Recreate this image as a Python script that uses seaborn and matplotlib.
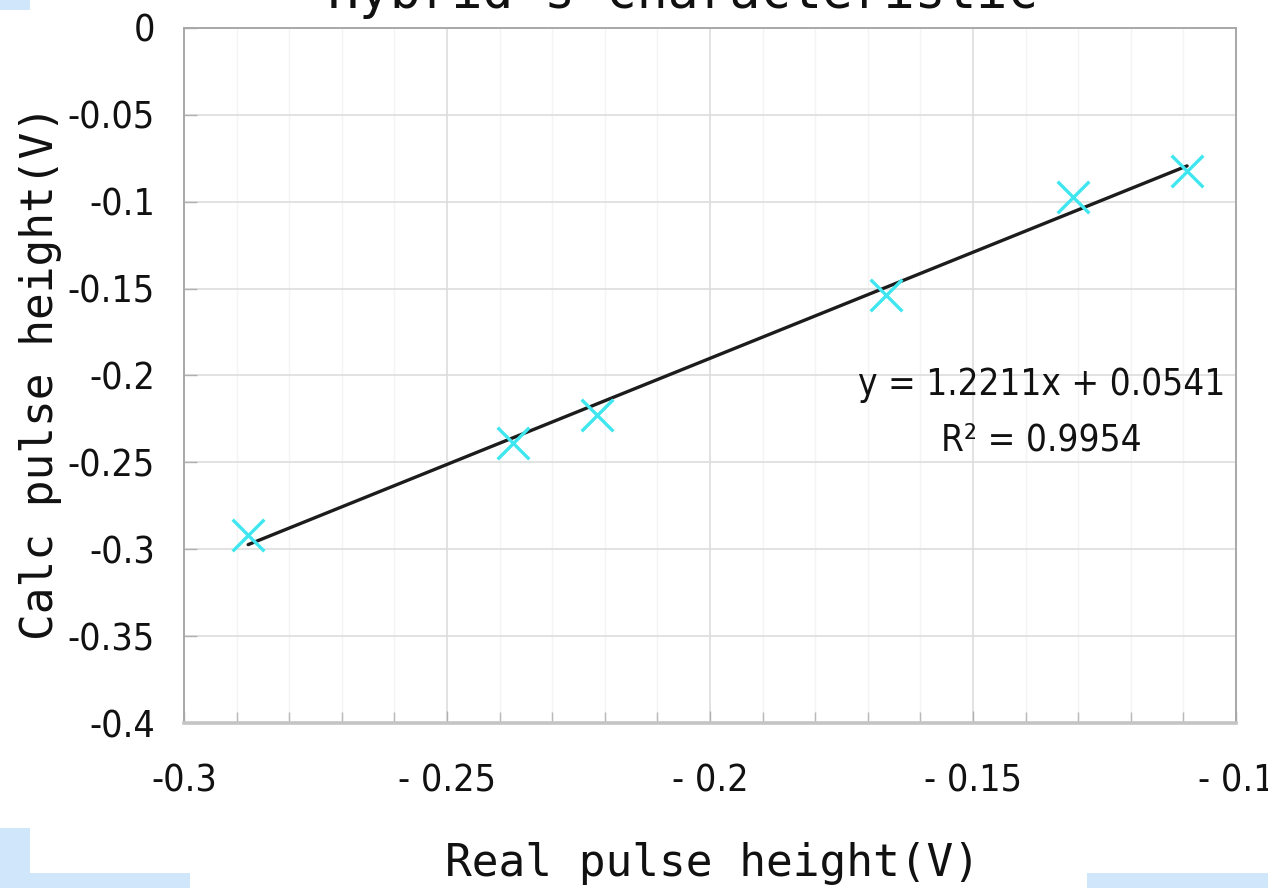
import matplotlib
matplotlib.use("Agg")
import matplotlib.pyplot as plt
from matplotlib import font_manager
from matplotlib.font_manager import FontProperties
from matplotlib.patches import Rectangle
from matplotlib.ticker import MultipleLocator, FixedLocator
import numpy as np
import pandas as pd
import seaborn as sns

# Measured pulse heights (V)
real_height = [-0.2878, -0.2375, -0.2215, -0.1665, -0.1310, -0.1093]
calc_height = [-0.2920, -0.2390, -0.2230, -0.1534, -0.0971, -0.0822]

# Linear fit reported on the chart
slope = 1.2211
intercept = 0.0541
r_squared = 0.9954

x_ticks = [-0.3, -0.25, -0.2, -0.15, -0.1]
x_tick_labels = ["-0.3", "- 0.25", "- 0.2", "- 0.15", "- 0.1"]
y_ticks = [0, -0.05, -0.1, -0.15, -0.2, -0.25, -0.3, -0.35, -0.4]
y_tick_labels = ["0", "-0.05", "-0.1", "-0.15", "-0.2", "-0.25", "-0.3", "-0.35", "-0.4"]

title_text = "Hybrid's characteristic"
x_label = "Real pulse height(V)"
y_label = "Calc pulse height(V)"

sns.set_theme(style="whitegrid")
plt.rcParams["font.family"] = ["DejaVu Sans"]


def narrow_font():
    """Return the path of a condensed sans face if one is installed."""
    cands = []
    for f in font_manager.fontManager.ttflist:
        name = f.name
        stretch = str(f.stretch)
        condensed = ("Narrow" in name or "Condensed" in name
                     or stretch in ("condensed", "semi-condensed", "extra-condensed"))
        if condensed and f.style == "normal" and f.weight in (400, "normal", "regular"):
            if "Mono" in name or "Serif" in name:
                continue
            cands.append(f)
    if cands:
        cands.sort(key=lambda f: f.fname)
        return cands[0].fname
    return None


narrow_path = narrow_font()


def num_font(size):
    if narrow_path:
        return FontProperties(fname=narrow_path, size=size)
    return FontProperties(family=["Liberation Sans", "DejaVu Sans"], size=size * 0.9)


mono = ["DejaVu Sans Mono", "DejaVu Sans"]

fig = plt.figure(figsize=(12.68, 8.88), dpi=100)
fig.patch.set_facecolor("white")
ax = fig.add_axes([184 / 1268, 1 - 723 / 888, (1236 - 184) / 1268, (723 - 28) / 888])

df = pd.DataFrame({"real": real_height, "calc": calc_height})
fit_x = np.array([min(real_height), max(real_height)])
fit_df = pd.DataFrame({"real": fit_x, "calc": slope * fit_x + intercept})

sns.lineplot(data=fit_df, x="real", y="calc", ax=ax, color="#1c1c1c",
             linewidth=2.4, zorder=3)
sns.scatterplot(data=df, x="real", y="calc", ax=ax, marker="x", s=520,
                color="#3fe6ef", linewidth=2.4, zorder=4)

ax.set_xlim(-0.3, -0.1)
ax.set_ylim(-0.4, 0)
ax.xaxis.set_major_locator(FixedLocator(x_ticks))
ax.yaxis.set_major_locator(FixedLocator(y_ticks))
ax.xaxis.set_minor_locator(MultipleLocator(0.01))
ax.set_xticklabels(x_tick_labels)
ax.set_yticklabels(y_tick_labels)

ax.grid(which="major", color="#dddddd", linewidth=1.2)
ax.grid(which="minor", axis="x", color="#f4f4f4", linewidth=1.0)
ax.set_axisbelow(True)

for side in ["left", "top", "right"]:
    ax.spines[side].set_visible(True)
    ax.spines[side].set_color("#a8a8a8")
    ax.spines[side].set_linewidth(1.4)
ax.spines["bottom"].set_visible(True)
ax.spines["bottom"].set_color("#c4c4c4")
ax.spines["bottom"].set_linewidth(2.6)

ax.tick_params(axis="y", which="major", direction="in", length=9, width=1,
               color="#b0b0b0", pad=21, left=True)
ax.tick_params(axis="x", which="major", direction="in", length=9, width=1,
               color="#b0b0b0", pad=29, bottom=True)
ax.tick_params(axis="x", which="minor", direction="in", length=8, width=1,
               color="#b8b8b8", bottom=True)

tick_fp = num_font(27)
for lab in ax.get_xticklabels() + ax.get_yticklabels():
    lab.set_fontproperties(tick_fp)
    lab.set_color("#111111")

ax.set_xlabel(x_label, family=mono, fontsize=32, color="#111111")
ax.set_ylabel(y_label, family=mono, fontsize=32, color="#111111")
ax.xaxis.set_label_coords(0.502, -0.171)
ax.yaxis.set_label_coords(-0.116, 0.505)

ax.text(0.815, 0.447, f"y = {slope:.4f}x + {intercept:.4f}\nR² = {r_squared:.4f}",
        transform=ax.transAxes, ha="center", va="center", multialignment="center",
        fontproperties=num_font(26.5), color="#111111", linespacing=1.65)

fig.text(683 / 1268, 1 - 8 / 888, title_text, ha="center", va="baseline",
         family=mono, fontsize=37, color="#111111")

# light-blue slide background showing around the chart
for (x0, y0, w, h) in [(0, 0, 30, 10), (0, 828, 30, 60), (0, 873, 190, 15),
                       (1087, 873, 181, 15)]:
    fig.patches.append(Rectangle((x0 / 1268, 1 - (y0 + h) / 888), w / 1268, h / 888,
                                 transform=fig.transFigure, facecolor="#cfe6fb",
                                 edgecolor="none", zorder=0))

fig.savefig("out.png", dpi=100)
